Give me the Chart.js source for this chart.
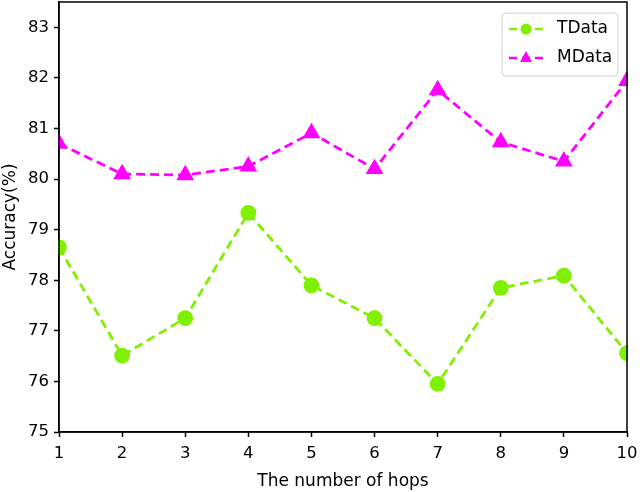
<!DOCTYPE html>
<html>
<head>
<meta charset="utf-8">
<script src="https://cdn.jsdelivr.net/npm/chart.js@4/dist/chart.umd.min.js"></script>
<style>
  html, body { margin: 0; padding: 0; background: #fff; }
  #wrap { width: 640px; height: 492px; }
</style>
</head>
<body>
<div id="wrap"><canvas id="accChart" width="640" height="492"></canvas></div>
<script>
const hops = ['1', '2', '3', '4', '5', '6', '7', '8', '9', '10'];
const tData = [78.65, 76.51, 77.25, 79.33, 77.90, 77.25, 75.95, 77.85, 78.09, 76.56];
const mData = [80.70, 80.10, 80.08, 80.25, 80.91, 80.20, 81.76, 80.73, 80.35, 81.94];
const yTicks = [75, 76, 77, 78, 79, 80, 81, 82, 83];

const font = 'DejaVu Sans';

// pin the plot box to where the reference has it
const boxPlugin = {
  id: 'box',
  afterLayout(chart) {
    const a = chart.chartArea;
    const { x, y } = chart.scales;
    a.top = 2; a.height = a.bottom - a.top;
    a.right = 627; a.width = a.right - a.left;
    y.top = 2; y.height = y.bottom - y.top;
    x.right = 627; x.width = x.right - x.left;
    y.configure(); x.configure();
    y._gridLineItems = null; y._labelItems = null;
    x._gridLineItems = null; x._labelItems = null;
  }
};

// frame round the plot and a matplotlib style legend in the top right corner
const framePlugin = {
  id: 'frame',
  afterDraw(chart) {
    const { ctx, chartArea: a } = chart;
    ctx.save();
    ctx.strokeStyle = '#000';
    ctx.lineWidth = 1.5;
    ctx.strokeRect(a.left, a.top, a.right - a.left, a.bottom - a.top);

    const bx = 502, by = 13, bw = 116, bh = 63;
    ctx.fillStyle = 'rgba(255,255,255,0.85)';
    ctx.strokeStyle = '#d0d0d0';
    ctx.lineWidth = 1;
    ctx.beginPath();
    ctx.roundRect(bx, by, bw, bh, 4);
    ctx.fill();
    ctx.stroke();

    chart.data.datasets.forEach((ds, i) => {
      const y = by + 16 + i * 29;
      ctx.strokeStyle = ds.borderColor;
      ctx.lineWidth = 2.5;
      ctx.setLineDash([8, 5]);
      ctx.beginPath();
      ctx.moveTo(509, y);
      ctx.lineTo(543, y);
      ctx.stroke();
      ctx.setLineDash([]);
      ctx.fillStyle = ds.borderColor;
      ctx.beginPath();
      if (ds.pointStyle === 'triangle') {
        ctx.moveTo(526, y - 7);
        ctx.lineTo(532, y + 4);
        ctx.lineTo(520, y + 4);
        ctx.closePath();
      } else {
        ctx.arc(526, y, 5.5, 0, Math.PI * 2);
      }
      ctx.fill();
      ctx.fillStyle = '#000';
      ctx.font = '17px "' + font + '"';
      ctx.textBaseline = 'middle';
      ctx.fillText(ds.label, 557, y);
    });
    ctx.restore();
  }
};

const ctx = document.getElementById('accChart').getContext('2d');
new Chart(ctx, {
  type: 'line',
  data: {
    labels: hops,
    datasets: [
      {
        label: 'TData',
        data: tData,
        borderColor: '#7FF000',
        backgroundColor: '#7FF000',
        borderWidth: 2.8,
        borderDash: [9, 5],
        pointStyle: 'circle',
        pointRadius: 6.5,
        pointHoverRadius: 6.5,
        clip: 1,
        tension: 0
      },
      {
        label: 'MData',
        data: mData,
        borderColor: '#FF00FF',
        backgroundColor: '#FF00FF',
        borderWidth: 2.8,
        borderDash: [9, 5],
        pointStyle: 'triangle',
        pointRadius: 7.5,
        pointHoverRadius: 7.5,
        clip: 1,
        tension: 0
      }
    ]
  },
  options: {
    responsive: false,
    animation: false,
    events: [],
    layout: { padding: { top: 2, right: 13, left: 0, bottom: 0 } },
    plugins: {
      legend: { display: false },
      tooltip: { enabled: false }
    },
    scales: {
      x: {
        type: 'category',
        offset: false,
        afterFit(scale) { scale.height = 60; },
        grid: { drawOnChartArea: false, drawTicks: true, tickLength: 5, tickColor: '#000', tickWidth: 1.5 },
        border: { display: true, color: '#000', width: 1.5 },
        ticks: { color: '#000', padding: 7, font: { family: font, size: 16.5 }, maxRotation: 0, autoSkip: false },
        title: { display: true, text: 'The number of hops', color: '#000', font: { family: font, size: 17 }, padding: { top: 3, bottom: 0 } }
      },
      y: {
        min: 75,
        max: 83.5,
        afterFit(scale) { scale.width = 59; },
        afterBuildTicks(scale) { scale.ticks = yTicks.map(v => ({ value: v })); },
        grid: { drawOnChartArea: false, drawTicks: true, tickLength: 5, tickColor: '#000', tickWidth: 1.5 },
        border: { display: true, color: '#000', width: 1.5 },
        ticks: { color: '#000', padding: 5, font: { family: font, size: 16.5 } },
        title: { display: true, text: 'Accuracy(%)', color: '#000', font: { family: font, size: 17 }, padding: { top: 0, bottom: 2 } }
      }
    }
  },
  plugins: [boxPlugin, framePlugin]
});
</script>
</body>
</html>
